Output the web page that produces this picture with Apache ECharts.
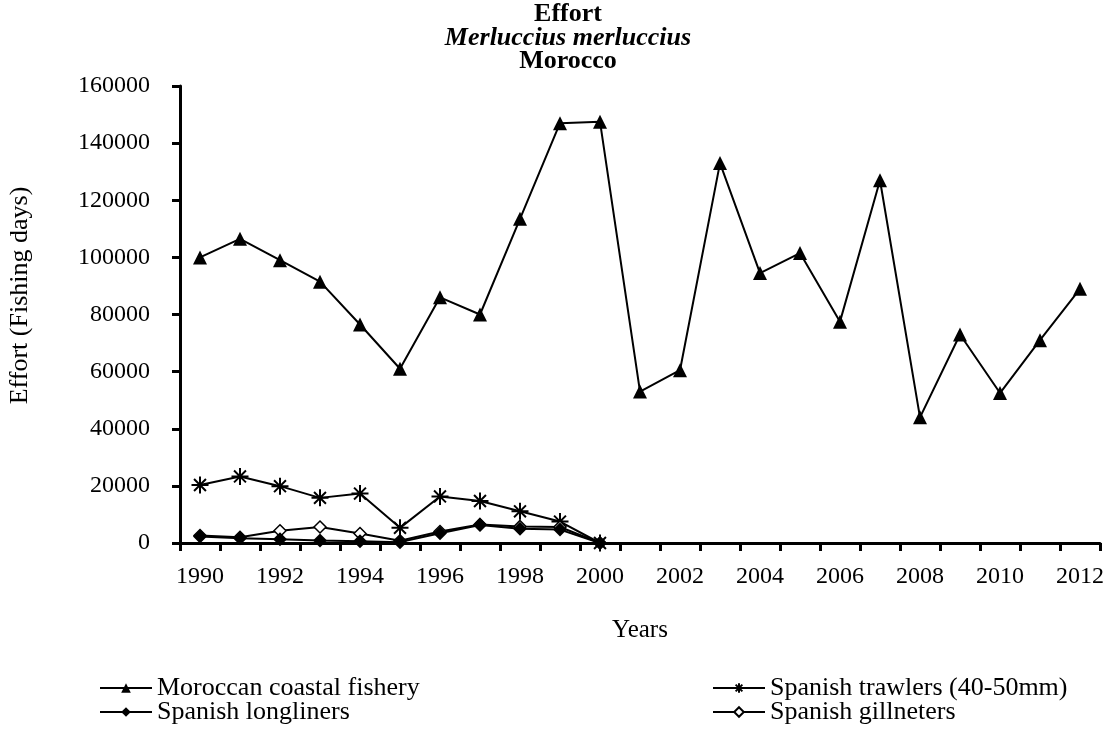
<!DOCTYPE html>
<html>
<head>
<meta charset="utf-8">
<script src="https://cdn.jsdelivr.net/npm/echarts@6/dist/echarts.min.js"></script>
<style>
  html, body { margin: 0; padding: 0; background: #fff; }
  #chart { width: 1112px; height: 733px; }
</style>
</head>
<body>
<div id="chart"></div>
<script>
const years = ['1990', '1991', '1992', '1993', '1994', '1995', '1996', '1997', '1998', '1999', '2000',
  '2001', '2002', '2003', '2004', '2005', '2006', '2007', '2008', '2009', '2010', '2011', '2012'];
const moroccanCoastal = [100000, 106500, 99000, 91500, 76500, 61000, 86000, 80000, 113500, 147000, 147500,
  53000, 60500, 133000, 94500, 101500, 77500, 127000, 44000, 73000, 52500, 71000, 89000];
const spanishTrawlers = [20300, 23300, 19900, 15800, 17300, 5300, 16300, 14700, 11100, 7500, 0];
const spanishLongliners = [2300, 1700, 1300, 900, 600, 300, 3400, 6300, 5000, 4700, 0];
const spanishGillneters = [2600, 2000, 4300, 5600, 3300, 800, 4000, 6500, 5800, 5600, 0];

const font = '"Liberation Serif", "Times New Roman", serif';
// asterisk marker drawn as stroked path
const asterisk = 'path://M0 5L10 5M5 0L5 10M1.5 1.5L8.5 8.5M8.5 1.5L1.5 8.5';

const chart = echarts.init(document.getElementById('chart'));

function lineSeries(name, data, symbol, size, fill, border) {
  return {
    name: name,
    type: 'line',
    data: data,
    symbol: symbol,
    symbolSize: size,
    showAllSymbol: true,
    lineStyle: { color: '#000', width: 2 },
    itemStyle: { color: fill, borderColor: '#000', borderWidth: border },
    emphasis: { disabled: true },
    z: 3
  };
}

// one legend per entry, placed in a 2x2 layout
function legendItem(name, left, top) {
  return {
    left: left,
    top: top,
    data: [name],
    itemWidth: 52,
    itemHeight: 12,
    textStyle: { fontFamily: font, fontSize: 26, color: '#000' }
  };
}

const titleStyle = { fontFamily: font, fontSize: 26, fontWeight: 'bold', color: '#000' };

chart.setOption({
  animation: false,
  backgroundColor: '#fff',
  title: [
    { text: 'Effort', left: 563, top: -4, textAlign: 'center', textStyle: titleStyle },
    { text: 'Merluccius merluccius', left: 563, top: 20, textAlign: 'center',
      textStyle: Object.assign({}, titleStyle, { fontStyle: 'italic' }) },
    { text: 'Morocco', left: 563, top: 43, textAlign: 'center', textStyle: titleStyle }
  ],
  legend: [
    legendItem('Moroccan coastal fishery', 94, 670),
    legendItem('Spanish longliners', 94, 694),
    legendItem('Spanish trawlers (40-50mm)', 707, 670),
    legendItem('Spanish gillneters', 707, 694)
  ],
  grid: { left: 180, right: 12, top: 86, bottom: 190, outerBoundsMode: 'none' },
  xAxis: {
    type: 'category',
    data: years,
    boundaryGap: true,
    name: 'Years',
    nameLocation: 'middle',
    nameGap: 75,
    nameTextStyle: { fontFamily: font, fontSize: 25, color: '#000' },
    axisLine: { lineStyle: { color: '#000', width: 3 } },
    axisTick: { show: true, interval: 0, length: 8, lineStyle: { color: '#000', width: 3 } },
    axisLabel: { interval: 1, margin: 22, fontFamily: font, fontSize: 24, color: '#000' },
    splitLine: { show: false }
  },
  yAxis: {
    type: 'value',
    min: 0,
    max: 160000,
    interval: 20000,
    name: 'Effort (Fishing days)',
    nameLocation: 'middle',
    nameGap: 147,
    nameRotate: 90,
    nameTextStyle: { fontFamily: font, fontSize: 26, color: '#000', padding: [0, 0, 0, 38] },
    axisLine: { show: true, lineStyle: { color: '#000', width: 3 } },
    axisTick: { show: true, length: 8, lineStyle: { color: '#000', width: 3 } },
    axisLabel: { margin: 30, fontFamily: font, fontSize: 24, color: '#000',
      formatter: function (v) { return String(v); } },
    splitLine: { show: false }
  },
  series: [
    lineSeries('Moroccan coastal fishery', moroccanCoastal, 'triangle', 14, '#000', 0),
    lineSeries('Spanish trawlers (40-50mm)', spanishTrawlers, asterisk, 17, 'rgba(0,0,0,0)', 2),
    lineSeries('Spanish gillneters', spanishGillneters, 'diamond', 12, '#fff', 1.5),
    lineSeries('Spanish longliners', spanishLongliners, 'diamond', 14, '#000', 0)
  ]
});
</script>
</body>
</html>
